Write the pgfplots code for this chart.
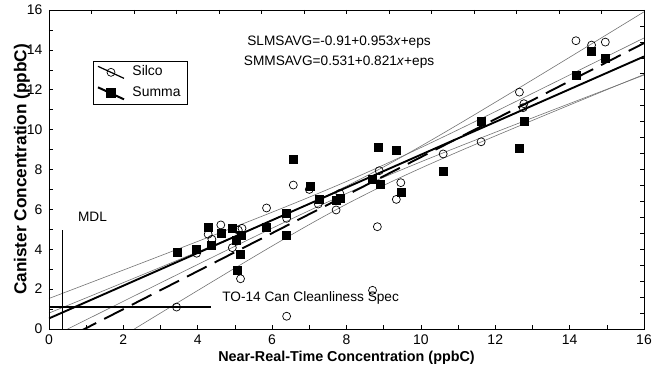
\documentclass[border=0pt]{standalone}
\usepackage{fontspec}
\setmainfont{Liberation Sans}
\usepackage{pgfplots}
\pgfplotsset{compat=1.18}
\begin{document}
\begin{tikzpicture}
\begin{axis}[
  at={(0,0)}, anchor=south west,
  width=595bp, height=319bp, scale only axis,
  xmin=0, xmax=16, ymin=0, ymax=16,
  xtick={0,2,...,16}, ytick={0,2,...,16},
  minor x tick num=1, minor y tick num=1,
  xtick pos=bottom, ytick pos=left,
  tick align=inside,
  major tick length=4bp, minor tick length=4bp,
  every tick/.style={black, line width=0.6bp},
  axis line style={line width=0.8bp},
  tick label style={font=\fontsize{14}{16}\selectfont},
  /pgf/number format/assume math mode=true,
  xticklabel style={yshift=-2bp},
  yticklabel style={xshift=-3bp},
  xlabel={Near-Real-Time Concentration (ppbC)},
  ylabel={Canister Concentration (ppbC)},
  xlabel style={font=\bfseries\fontsize{14.4}{16}\selectfont, at={(axis description cs:0.5,-0.0909)}, anchor=center},
  ylabel style={font=\bfseries\fontsize{17.3}{19}\selectfont, at={(axis description cs:-0.0454,0.5)}, anchor=center},
  legend style={at={(axis cs:1.175,13.44)}, anchor=north west, draw=black, line width=0.6bp,
    font=\fontsize{14}{16}\selectfont, inner xsep=4bp, inner ysep=2bp, row sep=3bp, column sep=5bp,
    nodes={inner sep=2.5bp, text height=10bp, text depth=3bp}},
  legend cell align=left,
  legend image code/.code={\draw[mark repeat=2,mark phase=2,#1] plot coordinates {(0bp,6bp)(13bp,0bp)(26bp,-6bp)};},
]
% confidence bands
\addplot[black!55, line width=0.6bp, smooth, forget plot] coordinates {
(0,1.531)(1,2.243)(2,2.957)(3,3.674)(4,4.394)(5,5.121)(6,5.858)(7,6.614)(8,7.401)(9,8.230)(10,9.098)(11,9.991)(12,10.901)(13,11.819)(14,12.742)(15,13.669)(16,14.597)};
\addplot[black!55, line width=0.6bp, smooth, forget plot] coordinates {
(0,-0.469)(1,0.461)(2,1.389)(3,2.314)(4,3.236)(5,4.151)(6,5.056)(7,5.942)(8,6.797)(9,7.610)(10,8.384)(11,9.133)(12,9.865)(13,10.589)(14,11.308)(15,12.023)(16,12.737)};
\addplot[black!55, line width=0.6bp, smooth, forget plot] coordinates {
(0,0.799)(1,1.562)(2,2.328)(3,3.097)(4,3.872)(5,4.655)(6,5.454)(7,6.283)(8,7.167)(9,8.131)(10,9.171)(11,10.258)(12,11.371)(13,12.496)(14,13.629)(15,14.767)(16,15.908)};
\addplot[black!55, line width=0.6bp, smooth, forget plot] coordinates {
(0,-2.619)(1,-1.476)(2,-0.336)(3,0.801)(4,1.932)(5,3.055)(6,4.162)(7,5.239)(8,6.261)(9,7.203)(10,8.069)(11,8.888)(12,9.681)(13,10.462)(14,11.235)(15,12.003)(16,12.768)};
% regression lines
\addplot[black, line width=1.9bp, dash pattern=on 22bp off 9bp, forget plot] coordinates {(0,-0.91)(16,14.338)};
\addplot[black, line width=1.9bp, forget plot] coordinates {(0,0.531)(16,13.667)};
% MDL and TO-14 lines
\addplot[black, line width=1.3bp, forget plot] coordinates {(0.37,0)(0.37,4.96)};
\addplot[black, line width=1.3bp, forget plot] coordinates {(0,1.10)(4.35,1.10)};
% Silco
\addplot[only marks, mark=o, mark size=4bp, mark options={line width=0.7bp, black}, forget plot] table {
x y
3.43 1.10
6.39 0.64
3.97 3.80
4.28 4.75
4.62 5.22
4.38 4.50
5.19 5.05
5.09 4.96
4.93 4.08
5.15 2.52
5.85 6.07
6.39 5.55
6.57 7.22
7.00 7.00
7.24 6.27
7.82 6.80
7.72 5.97
8.88 7.94
9.46 7.34
9.34 6.50
8.83 5.13
8.70 1.94
11.62 9.39
10.60 8.78
12.77 11.30
12.75 11.10
12.65 11.88
14.17 14.46
14.59 14.24
14.96 14.39
};
% Summa
\addplot[only marks, mark=square*, mark size=4bp, mark options={black}, forget plot] table {
x y
3.45 3.85
3.97 4.00
4.28 5.13
4.62 4.80
4.37 4.20
4.93 5.08
5.03 4.46
5.18 4.71
5.15 3.74
5.07 2.97
6.39 5.80
5.85 5.10
6.39 4.71
6.57 8.53
7.02 7.17
7.26 6.50
7.72 6.47
7.82 6.55
8.84 9.11
9.34 8.98
8.70 7.51
8.90 7.27
9.46 6.87
11.62 10.40
12.77 10.40
10.59 7.89
12.64 9.05
14.59 13.91
14.96 13.58
14.17 12.74
};
\addlegendimage{black, line width=1.2bp, mark=o, mark size=4bp, mark options={solid, line width=0.7bp}}
\addlegendentry{Silco}
\addlegendimage{black, line width=2bp, mark=square*, mark size=4bp, mark options={solid}}
\addlegendentry{Summa}
\node[font=\fontsize{13.7}{15}\selectfont, anchor=center] at (axis cs:7.80,14.41) {SLMSAVG=-0.91+0.953\textit{x}+eps};
\node[font=\fontsize{13.7}{15}\selectfont, anchor=center] at (axis cs:7.80,13.37) {SMMSAVG=0.531+0.821\textit{x}+eps};
\node[font=\fontsize{13.7}{15}\selectfont, anchor=center] at (axis cs:1.17,5.63) {MDL};
\node[font=\fontsize{13.7}{15}\selectfont, anchor=west, fill=white, inner sep=1bp] at (axis cs:4.63,1.55) {TO-14 Can Cleanliness Spec};
\end{axis}
\begin{axis}[
  at={(0,0)}, anchor=south west,
  width=595bp, height=319bp, scale only axis,
  xmin=0, xmax=14, ymin=0, ymax=20,
  xtick={0,...,14}, ytick={0,...,20},
  xtick pos=top, ytick pos=right,
  xticklabels={}, yticklabels={},
  tick align=inside, major tick length=4bp,
  every tick/.style={black, line width=0.6bp},
  axis line style={line width=0.8bp},
]
\addplot[draw=none] coordinates {(0,0)};
\end{axis}
\path (-49bp,-50bp) rectangle (607bp,329bp);
\end{tikzpicture}
\end{document}
